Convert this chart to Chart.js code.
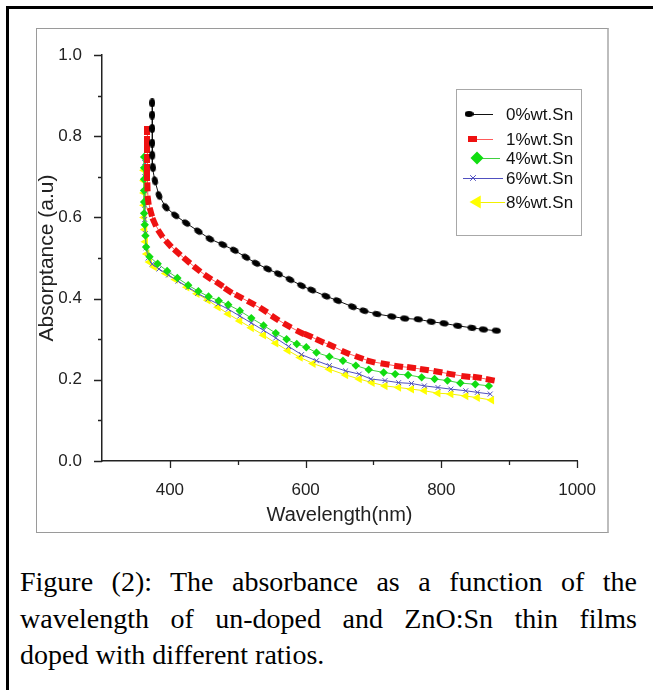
<!DOCTYPE html>
<html>
<head>
<meta charset="utf-8">
<script src="https://cdn.jsdelivr.net/npm/chart.js@4.4.0/dist/chart.umd.min.js"></script>
<style>
  html, body { margin: 0; padding: 0; background: #fff; }
  body { width: 653px; height: 690px; position: relative; overflow: hidden; }
  #frame { position: absolute; left: 6px; top: 6px; width: 700px; height: 720px;
           border-left: 3px solid #000; border-top: 3px solid #000; }
  #plotBox { position: absolute; left: 36px; top: 28px; width: 570px; height: 503px;
             border: 1px solid #9a9a9a; border-right: 2px solid #bdbdbd; }
  #chartWrap { position: absolute; left: 37px; top: 29px; width: 570px; height: 503px; }
  #caption { position: absolute; left: 20px; top: 564px; width: 617px;
             font-family: "Liberation Serif", "Times New Roman", serif;
             font-size: 28px; line-height: 36.5px; color: #000; }
  #caption .jl { text-align: justify; text-align-last: justify; }
</style>
</head>
<body>
<div id="frame"></div>
<div id="plotBox"></div>
<div id="chartWrap"><canvas id="myChart"></canvas></div>
<div id="caption">
  <div class="jl">Figure (2): The absorbance as a function of the</div>
  <div class="jl">wavelength of un-doped and ZnO:Sn thin films</div>
  <div>doped with different ratios.</div>
</div>

<script>
// series names (legend)
const seriesNames = ['0%wt.Sn', '1%wt.Sn', '4%wt.Sn', '6%wt.Sn', '8%wt.Sn'];

// 0%wt.Sn
const wave0 = [374, 374, 374, 374, 374, 375, 378, 384, 394, 408, 424, 442, 459, 478, 495, 512, 527, 544, 560, 577,
  594, 609, 630, 647, 669, 686, 705, 727, 746, 766, 785, 804, 824, 845, 862, 881];
const abs0 = [0.882, 0.852, 0.819, 0.783, 0.753, 0.723, 0.690, 0.654, 0.625, 0.605, 0.586, 0.566, 0.547, 0.533, 0.519, 0.502, 0.487, 0.473, 0.461, 0.447,
  0.432, 0.421, 0.406, 0.395, 0.380, 0.370, 0.362, 0.356, 0.351, 0.349, 0.343, 0.339, 0.333, 0.328, 0.324, 0.321];

// 1%wt.Sn
const wave1 = [367, 367, 367, 367, 367, 367, 367, 368, 372, 377, 386, 398, 411, 425, 440, 456, 473, 486, 502, 520,
  538, 555, 573, 592, 604, 621, 638, 659, 679, 696, 717, 737, 756, 775, 795, 814, 836, 853, 872];
const abs1 = [0.815, 0.790, 0.770, 0.745, 0.720, 0.700, 0.675, 0.642, 0.613, 0.588, 0.560, 0.535, 0.514, 0.494, 0.473, 0.453, 0.436, 0.420, 0.405, 0.389,
  0.372, 0.352, 0.334, 0.317, 0.309, 0.296, 0.284, 0.267, 0.255, 0.245, 0.239, 0.233, 0.230, 0.225, 0.220, 0.214, 0.208, 0.206, 0.200];

// 4%wt.Sn
const wave4 = [362, 362, 362, 362, 362, 362, 363, 364, 365, 370, 382, 396, 411, 427, 442, 457, 472, 486, 503, 520,
  538, 556, 572, 587, 601, 616, 635, 655, 674, 693, 715, 732, 751, 771, 790, 809, 828, 850, 870];
const abs4 = [0.749, 0.722, 0.694, 0.666, 0.638, 0.610, 0.582, 0.555, 0.527, 0.503, 0.486, 0.468, 0.451, 0.433, 0.418, 0.405, 0.395, 0.385, 0.370, 0.352,
  0.334, 0.315, 0.300, 0.288, 0.280, 0.267, 0.257, 0.247, 0.235, 0.225, 0.218, 0.214, 0.212, 0.206, 0.202, 0.198, 0.192, 0.189, 0.185];

// 6%wt.Sn
const wave6 = [363, 363, 363, 363, 363, 364, 365, 368, 374, 384, 398, 412, 427, 441, 456, 471, 486, 503, 520, 538,
  556, 575, 594, 616, 635, 659, 679, 696, 717, 737, 756, 775, 795, 814, 836, 853, 872];
const abs6 = [0.735, 0.700, 0.665, 0.630, 0.595, 0.560, 0.525, 0.500, 0.485, 0.473, 0.458, 0.443, 0.428, 0.413, 0.399, 0.387, 0.374, 0.357, 0.340, 0.322,
  0.303, 0.282, 0.262, 0.247, 0.235, 0.222, 0.214, 0.202, 0.198, 0.193, 0.191, 0.185, 0.181, 0.177, 0.173, 0.169, 0.165];

// 8%wt.Sn
const wave8 = [362, 362, 362, 362, 362, 363, 364, 366, 370, 377, 394, 408, 425, 440, 456, 471, 486, 503, 520, 538,
  556, 574, 592, 611, 635, 659, 679, 698, 717, 737, 756, 775, 795, 814, 836, 853, 874];
const abs8 = [0.716, 0.690, 0.660, 0.630, 0.600, 0.570, 0.540, 0.510, 0.490, 0.478, 0.462, 0.447, 0.428, 0.412, 0.396, 0.379, 0.362, 0.345, 0.328, 0.310,
  0.290, 0.272, 0.255, 0.240, 0.226, 0.212, 0.202, 0.193, 0.185, 0.181, 0.177, 0.173, 0.167, 0.165, 0.160, 0.156, 0.150];

// axis ticks
const xMajorTicks = [400, 600, 800, 1000];
const xMinorTicks = [500, 700, 900];
const yMajorTicks = [0, 0.2, 0.4, 0.6, 0.8, 1.0];
const yMinorTicks = [0.1, 0.3, 0.5, 0.7, 0.9];

const toPoints = (w, a) => w.map((x, i) => ({ x: x, y: a[i] }));

// small marker images (Origin style elongated symbols)
function makeMarker(w, h, color, shape) {
  const c = document.createElement('canvas');
  c.width = w;
  c.height = h;
  const g = c.getContext('2d');
  g.fillStyle = color;
  if (shape === 'ellipse') {
    g.beginPath();
    g.ellipse(w / 2, h / 2, w / 2, h / 2, 0, 0, Math.PI * 2);
    g.fill();
  } else {
    g.fillRect(0, 0, w, h);
  }
  return c;
}
const blackEllipse = makeMarker(9, 6, '#000', 'ellipse');
const redRect = makeMarker(9, 6, '#ee1111', 'rect');

// turn a marker so that it follows the curve
const alongCurve = c => {
  const d = c.dataset && c.dataset.data;
  const sc = c.chart.scales;
  if (!d || !sc.x || !sc.y || c.dataIndex === undefined) return 0;
  const a = d[Math.max(c.dataIndex - 1, 0)];
  const b = d[Math.min(c.dataIndex + 1, d.length - 1)];
  const dx = sc.x.getPixelForValue(b.x) - sc.x.getPixelForValue(a.x);
  const dy = sc.y.getPixelForValue(b.y) - sc.y.getPixelForValue(a.y);
  return Math.atan2(dy, dx) * 180 / Math.PI;
};

const datasets = [
  { label: seriesNames[0], data: toPoints(wave0, abs0),
    borderColor: '#111', borderWidth: 1,
    pointStyle: blackEllipse, pointRotation: alongCurve, pointRadius: 4,
    pointBackgroundColor: '#000', pointBorderColor: '#000', pointBorderWidth: 0 },
  { label: seriesNames[1], data: toPoints(wave1, abs1),
    borderColor: '#ff5a5a', borderWidth: 1,
    pointStyle: redRect, pointRotation: alongCurve, pointRadius: 5,
    pointBackgroundColor: '#ee1111', pointBorderColor: '#ee1111', pointBorderWidth: 0 },
  { label: seriesNames[2], data: toPoints(wave4, abs4),
    borderColor: '#40d040', borderWidth: 1,
    pointStyle: 'rectRot', pointRadius: 4.2, pointBackgroundColor: '#11dd11', pointBorderColor: '#11dd11', pointBorderWidth: 0 },
  { label: seriesNames[3], data: toPoints(wave6, abs6),
    borderColor: '#5050c0', borderWidth: 1,
    pointStyle: 'crossRot', pointRadius: 3.5, pointBackgroundColor: '#5050c0', pointBorderColor: '#5050c0', pointBorderWidth: 1 },
  { label: seriesNames[4], data: toPoints(wave8, abs8),
    borderColor: '#f2f000', borderWidth: 1,
    pointStyle: 'triangle', pointRotation: -90, pointRadius: 5, pointBackgroundColor: '#ffff00', pointBorderColor: '#ffff00', pointBorderWidth: 0 }
];

// minor/major tick marks drawn outward from the axis lines
const tickMarks = {
  id: 'tickMarks',
  afterDraw(chart) {
    const { ctx, chartArea, scales } = chart;
    ctx.save();
    ctx.strokeStyle = '#222';
    ctx.lineWidth = 1.3;
    ctx.beginPath();
    yMajorTicks.concat(yMinorTicks).forEach(v => {
      const y = Math.round(scales.y.getPixelForValue(v)) + 0.5;
      const len = yMajorTicks.includes(v) ? 8 : 4;
      ctx.moveTo(chartArea.left - len, y);
      ctx.lineTo(chartArea.left, y);
    });
    xMajorTicks.concat(xMinorTicks).forEach(v => {
      const x = Math.round(scales.x.getPixelForValue(v)) + 0.5;
      const len = xMajorTicks.includes(v) ? 7 : 4;
      ctx.moveTo(x, chartArea.bottom);
      ctx.lineTo(x, chartArea.bottom + len);
    });
    ctx.stroke();
    ctx.restore();
  }
};

// legend box inside the plot, like the original
const boxLegend = {
  id: 'boxLegend',
  afterDraw(chart) {
    const ctx = chart.ctx;
    const rows = [
      { y: 85, mx: 432, x0: 432, x1: 456, r: 4.5 },
      { y: 110, mx: 435, x0: 435, x1: 456, r: 6 },
      { y: 129, mx: 440, x0: 440, x1: 463, r: 6.5 },
      { y: 149, mx: 436, x0: 426, x1: 466, r: 4 },
      { y: 173, mx: 440, x0: 440, x1: 468, r: 7.5 }
    ];
    ctx.save();
    ctx.strokeStyle = '#a8a8a8';
    ctx.lineWidth = 1;
    ctx.strokeRect(419.5, 60.5, 125, 146);
    ctx.font = '17px "Liberation Sans", Arial, sans-serif';
    ctx.textBaseline = 'middle';
    chart.data.datasets.forEach((ds, i) => {
      const r = rows[i];
      ctx.strokeStyle = ds.borderColor;
      ctx.lineWidth = 1;
      ctx.beginPath();
      ctx.moveTo(r.x0, r.y + 0.5);
      ctx.lineTo(r.x1, r.y + 0.5);
      ctx.stroke();
      ctx.fillStyle = ds.pointBackgroundColor;
      ctx.strokeStyle = ds.pointBorderColor;
      ctx.lineWidth = ds.pointBorderWidth || 1;
      const rot = typeof ds.pointRotation === 'number' ? ds.pointRotation : 0;
      Chart.helpers.drawPoint(ctx, {
        pointStyle: ds.pointStyle, rotation: rot, radius: r.r, borderWidth: ds.pointBorderWidth
      }, r.mx, r.y);
      ctx.fillStyle = '#111';
      ctx.fillText(ds.label, 469, r.y + 1);
    });
    ctx.restore();
  }
};

const ctx = document.getElementById('myChart').getContext('2d');
new Chart(ctx, {
  type: 'line',
  data: { datasets: datasets },
  options: {
    responsive: true,
    maintainAspectRatio: false,
    animation: false,
    events: [],
    layout: { padding: { top: 26, right: 22, left: 0, bottom: 0 } },
    elements: { line: { tension: 0, fill: false } },
    plugins: { legend: { display: false }, tooltip: { enabled: false } },
    scales: {
      x: {
        type: 'linear',
        min: 300,
        max: 1000,
        afterBuildTicks: scale => { scale.ticks = xMajorTicks.map(v => ({ value: v })); },
        afterFit: scale => { scale.height = 71; },
        grid: { display: false },
        border: { display: true, color: '#222', width: 1.5 },
        ticks: {
          padding: 11,
          color: '#222',
          font: { family: '"Liberation Sans", Arial, sans-serif', size: 17 },
          maxRotation: 0,
          callback: v => String(v)
        },
        title: {
          display: true,
          text: 'Wavelength(nm)',
          color: '#222',
          font: { family: '"Liberation Sans", Arial, sans-serif', size: 20, lineHeight: 1 },
          padding: { top: 0, bottom: 7 }
        }
      },
      y: {
        min: 0,
        max: 1,
        afterBuildTicks: scale => { scale.ticks = yMajorTicks.map(v => ({ value: v })); },
        afterFit: scale => { scale.width = 65; },
        grid: { display: false },
        border: { display: true, color: '#222', width: 1.5 },
        ticks: {
          padding: 12,
          color: '#222',
          font: { family: '"Liberation Sans", Arial, sans-serif', size: 17 },
          callback: v => Number(v).toFixed(1)
        },
        title: {
          display: true,
          text: 'Absorptance (a.u)',
          color: '#222',
          font: { family: '"Liberation Sans", Arial, sans-serif', size: 21, lineHeight: 1 },
          padding: 0
        }
      }
    }
  },
  plugins: [tickMarks, boxLegend]
});
</script>
</body>
</html>
